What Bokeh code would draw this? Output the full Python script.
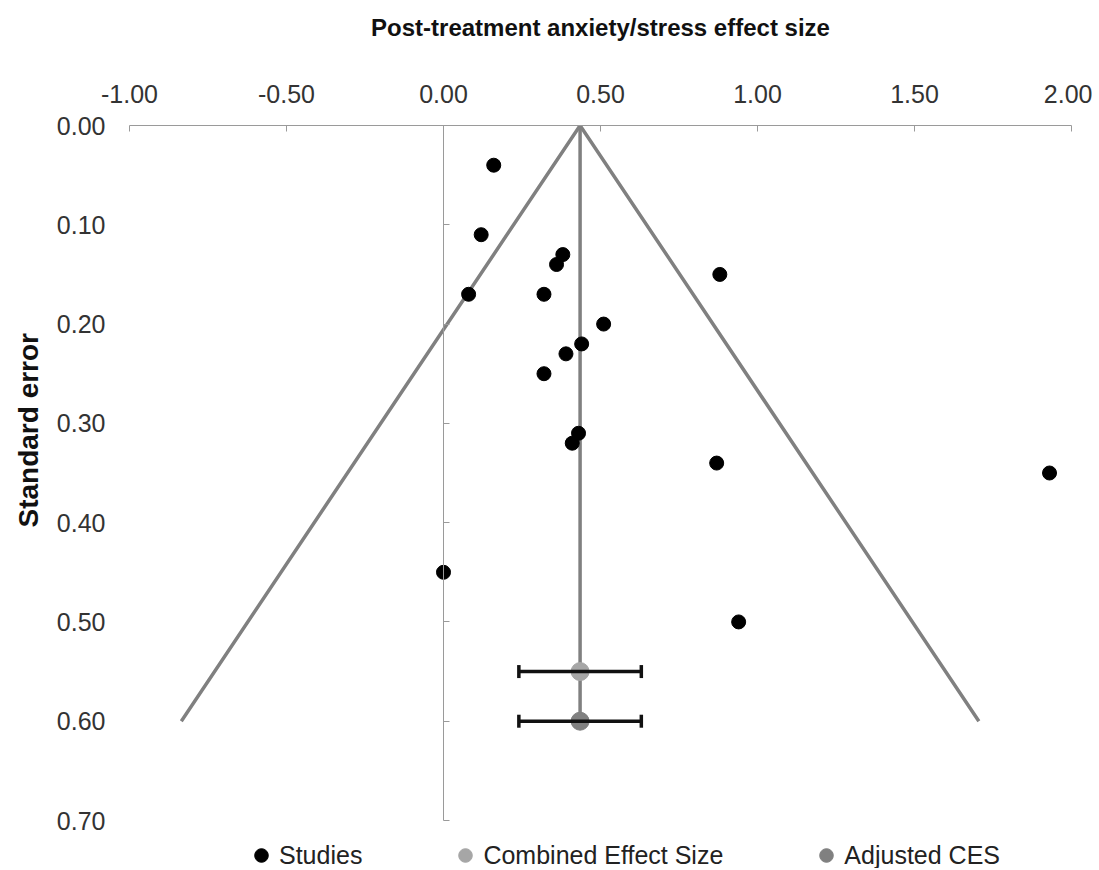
from bokeh.plotting import figure
from bokeh.models import (LinearAxis, Range1d, FixedTicker, NumeralTickFormatter,
                          CustomJSTickFormatter, Whisker, TeeHead, ColumnDataSource,
                          Legend, LegendItem, Title)
from bokeh.embed import file_html
from bokeh.resources import INLINE

# ---- data ----
study_es = [0.16, 0.12, 0.38, 0.36, 0.88, 0.08, 0.32, 0.51, 0.44, 0.39, 0.32,
            0.43, 0.41, 0.87, 1.93, 0.00, 0.94]
study_se = [0.04, 0.11, 0.13, 0.14, 0.15, 0.17, 0.17, 0.20, 0.22, 0.23, 0.25,
            0.31, 0.32, 0.34, 0.35, 0.45, 0.50]

ces_es = [0.435]
ces_se = [0.55]
ces_lo = [0.24]
ces_hi = [0.63]

adj_es = [0.435]
adj_se = [0.60]
adj_lo = [0.24]
adj_hi = [0.63]

funnel_x = [-0.835, 0.435, 1.705]
funnel_y = [0.60, 0.00, 0.60]
center_x = [0.435, 0.435]
center_y = [0.00, 0.60]

x_ticks = [-1.0, -0.5, 0.0, 0.5, 1.0, 1.5, 2.0]
y_ticks = [0.0, 0.1, 0.2, 0.3, 0.4, 0.5, 0.6, 0.7]

FONT = "Liberation Sans"
AXIS_GRAY = "#9a9a9a"
LINE_GRAY = "#808080"
TEXT_COL = "#333333"

PLOT_H = 695          # pixels for 0.00 .. 0.70
LEG_H = 48            # extra room below for the legend
y_axis_max = y_ticks[-1]
y_view_max = y_axis_max * (PLOT_H + LEG_H) / PLOT_H

p = figure(frame_width=942, frame_height=PLOT_H + LEG_H,
           x_range=Range1d(-1.0, 2.0), y_range=Range1d(y_view_max, 0.0),
           output_backend="svg", toolbar_location=None, x_axis_location="above",
           min_border_left=129, min_border_right=21, min_border_top=125, min_border_bottom=0,
           outline_line_color=None, background_fill_color="white", border_fill_color="white")
p.grid.visible = False

# top x axis
xa = p.xaxis[0]
xa.ticker = FixedTicker(ticks=x_ticks)
xa.formatter = NumeralTickFormatter(format="0.00")
xa.axis_line_color = AXIS_GRAY
xa.major_tick_line_color = AXIS_GRAY
xa.major_tick_in = 6
xa.major_tick_out = 0
xa.minor_tick_line_color = None
xa.major_label_text_font = FONT
xa.major_label_text_font_size = "25px"
xa.major_label_text_color = TEXT_COL
xa.major_label_standoff = 23
xa.axis_label = "Post-treatment anxiety/stress effect size"
xa.axis_label_text_font = FONT
xa.axis_label_text_font_style = "bold"
xa.axis_label_text_font_size = "24px"
xa.axis_label_text_color = "#111111"
xa.axis_label_standoff = 41

# left y axis: labels only
ya = p.yaxis[0]
ya.ticker = FixedTicker(ticks=y_ticks)
ya.formatter = NumeralTickFormatter(format="0.00")
ya.axis_line_color = None
ya.major_tick_line_color = None
ya.minor_tick_line_color = None
ya.major_label_text_font = FONT
ya.major_label_text_font_size = "25px"
ya.major_label_text_color = TEXT_COL
ya.major_label_standoff = 18

ytitle = Title(text="Standard error", align="left", offset=293 + LEG_H,
               text_font=FONT, text_font_style="bold", text_font_size="28px",
               text_color="#111111", standoff=20)
p.add_layout(ytitle, "left")

# vertical axis line at x = 0
za = LinearAxis(fixed_location=0.0, ticker=FixedTicker(ticks=y_ticks),
                bounds=(0.0, y_axis_max),
                formatter=CustomJSTickFormatter(code="return ''"),
                axis_line_color=AXIS_GRAY, major_tick_line_color=AXIS_GRAY,
                major_tick_in=0, major_tick_out=6, minor_tick_line_color=None,
                major_label_text_font_size="1px")
p.add_layout(za, "right")

# funnel and centre line
p.line(funnel_x, funnel_y, line_color=LINE_GRAY, line_width=3.5)
p.line(center_x, center_y, line_color=LINE_GRAY, line_width=3.5)

# error bars
src_ces = ColumnDataSource(dict(x=ces_es, y=ces_se, lo=ces_lo, hi=ces_hi))
src_adj = ColumnDataSource(dict(x=adj_es, y=adj_se, lo=adj_lo, hi=adj_hi))
for src in (src_ces, src_adj):
    w = Whisker(base="y", lower="lo", upper="hi", dimension="width", source=src,
                line_color="#111111", line_width=3.5, level="glyph",
                lower_head=TeeHead(size=13, line_width=3.5, line_color="#111111"),
                upper_head=TeeHead(size=13, line_width=3.5, line_color="#111111"))
    p.add_layout(w)

r_st = p.scatter(study_es, study_se, size=14, fill_color="#000000", line_color="#000000")
r_ces = p.scatter("x", "y", source=src_ces, size=18, fill_color="#a6a6a6", line_color="#a6a6a6")
r_adj = p.scatter("x", "y", source=src_adj, size=18, fill_color="#808080", line_color="#808080")

legend = Legend(items=[LegendItem(label="Studies", renderers=[r_st]),
                       LegendItem(label="Combined Effect Size", renderers=[r_ces]),
                       LegendItem(label="Adjusted CES", renderers=[r_adj])],
                orientation="horizontal", location=(114, -4),
                label_text_font=FONT, label_text_font_size="25px", label_text_color="#222222",
                glyph_width=36, glyph_height=34, label_standoff=-7, spacing=85,
                border_line_color=None, background_fill_alpha=0, padding=0, margin=0)
p.add_layout(legend, "center")

open("out.html", "w").write(file_html(p, INLINE))
